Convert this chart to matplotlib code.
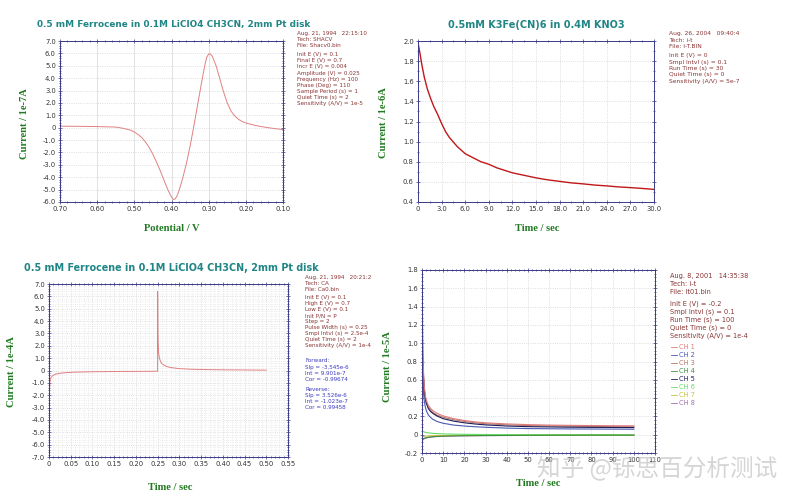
import matplotlib
matplotlib.use('Agg')
import matplotlib.pyplot as plt, numpy as np
from matplotlib.ticker import MultipleLocator, AutoMinorLocator, FuncFormatter

###data read off the four instrument screens
##SHACV (top left)
shacv_E = [0.70, 0.65, 0.60, 0.55, 0.53, 0.51, 0.50, 0.49, 0.48, 0.47, 0.46, 0.45, 0.44, 0.43, 0.42, 0.41,
           0.40, 0.395, 0.39, 0.385, 0.38, 0.37, 0.36, 0.35, 0.34, 0.33, 0.32, 0.315, 0.31, 0.305, 0.30,
           0.295, 0.29, 0.28, 0.27, 0.26, 0.25, 0.24, 0.23, 0.22, 0.21, 0.20, 0.18, 0.16, 0.14, 0.12, 0.10]
shacv_I = [0.12, 0.11, 0.09, 0.05, -0.05, -0.2, -0.35, -0.55, -0.8, -1.15, -1.6, -2.15, -2.8, -3.5, -4.25, -5.0,
           -5.6, -5.8, -5.75, -5.5, -5.1, -4.1, -2.9, -1.5, 0.1, 1.8, 3.5, 4.3, 5.1, 5.7, 5.95,
           5.95, 5.75, 5.0, 3.95, 2.9, 2.0, 1.35, 0.95, 0.68, 0.5, 0.38, 0.22, 0.1, 0.0, -0.08, -0.15]

##i-t K3Fe(CN)6 (top right)
it_t = [0, 0.2, 0.5, 0.8, 1.2, 1.6, 2.0, 2.5, 3.0, 3.5, 4.0, 5.0, 6.0, 7.0, 8.0, 9.0, 10.0, 11.0, 12.0,
        13.5, 15.0, 16.5, 18.0, 19.5, 21.0, 22.5, 24.0, 25.5, 27.0, 28.5, 30.0]
it_I = [1.98, 1.90, 1.76, 1.64, 1.52, 1.43, 1.35, 1.27, 1.18, 1.10, 1.04, 0.95, 0.88, 0.84, 0.80, 0.775, 0.74,
        0.715, 0.69, 0.665, 0.64, 0.62, 0.605, 0.59, 0.58, 0.568, 0.56, 0.55, 0.543, 0.535, 0.525]

##CA double step (bottom left)
ca_t = [0.0, 0.001, 0.002, 0.004, 0.008, 0.015, 0.025, 0.04, 0.06, 0.1, 0.15, 0.2, 0.2499, 0.25, 0.2505,
        0.251, 0.252, 0.254, 0.257, 0.26, 0.265, 0.27, 0.28, 0.3, 0.33, 0.37, 0.42, 0.46, 0.5]
ca_I = [-6.9, -2.0, -0.9, -0.6, -0.42, -0.3, -0.22, -0.17, -0.13, -0.1, -0.08, -0.07, -0.06, 6.4, 3.5,
        2.3, 1.5, 1.0, 0.7, 0.55, 0.42, 0.33, 0.24, 0.15, 0.1, 0.07, 0.05, 0.04, 0.03]

##8 channel i-t (bottom right)
mc_t = [0.1, 0.3, 0.6, 1, 1.5, 2, 3, 4, 5, 7, 10, 15, 20, 25, 30, 40, 50, 60, 70, 80, 90, 100]
ch1 = [1.75, 1.1, 0.75, 0.55, 0.44, 0.38, 0.32, 0.29, 0.265, 0.235, 0.205, 0.175, 0.155, 0.14, 0.13, 0.118, 0.11, 0.105, 0.102, 0.1, 0.098, 0.097]
ch2 = [0.75, 0.6, 0.48, 0.38, 0.31, 0.265, 0.215, 0.19, 0.17, 0.145, 0.125, 0.105, 0.095, 0.087, 0.081, 0.072, 0.067, 0.065, 0.063, 0.062, 0.061, 0.06]
ch3 = [1.55, 1.0, 0.7, 0.52, 0.42, 0.36, 0.3, 0.27, 0.245, 0.215, 0.19, 0.163, 0.145, 0.13, 0.12, 0.108, 0.1, 0.096, 0.093, 0.09, 0.088, 0.087]
ch4 = [-0.06, -0.05, -0.045, -0.04, -0.036, -0.033, -0.028, -0.025, -0.022, -0.019, -0.016, -0.013, -0.011, -0.01, -0.009, -0.008, -0.007, -0.006, -0.006, -0.005, -0.005, -0.005]
ch5 = [0.95, 0.85, 0.68, 0.5, 0.4, 0.345, 0.285, 0.255, 0.235, 0.205, 0.175, 0.148, 0.13, 0.117, 0.107, 0.095, 0.088, 0.085, 0.082, 0.08, 0.079, 0.078]
ch6 = [0.05, 0.04, 0.035, 0.03, 0.027, 0.024, 0.02, 0.017, 0.015, 0.012, 0.009, 0.006, 0.004, 0.003, 0.002, 0.001, 0.0, 0.0, -0.001, -0.001, -0.002, -0.002]
ch7 = [-0.03, -0.025, -0.02, -0.018, -0.016, -0.015, -0.013, -0.012, -0.011, -0.01, -0.009, -0.008, -0.007, -0.007, -0.006, -0.006, -0.005, -0.005, -0.005, -0.005, -0.005, -0.005]
ch8 = [-0.08, -0.06, -0.05, -0.045, -0.04, -0.036, -0.03, -0.027, -0.024, -0.02, -0.017, -0.014, -0.012, -0.011, -0.01, -0.009, -0.008, -0.007, -0.007, -0.006, -0.006, -0.006]
ch_names = ['CH 1', 'CH 2', 'CH 3', 'CH 4', 'CH 5', 'CH 6', 'CH 7', 'CH 8']
ch_colors = ['#e07a7a', '#4a5ab0', '#b47a68', '#3f8f3f', '#1c1c5a', '#66dd66', '#c8c040', '#a070b0']

##instrument parameter text ('' = small gap)
info1 = ['Aug. 21, 1994   22:15:10', 'Tech: SHACV', 'File: Shacv0.bin', '',
         'Init E (V) = 0.1', 'Final E (V) = 0.7', 'Incr E (V) = 0.004', 'Amplitude (V) = 0.025',
         'Frequency (Hz) = 100', 'Phase (Deg) = 110', 'Sample Period (s) = 1', 'Quiet Time (s) = 2',
         'Sensitivity (A/V) = 1e-5']
info2 = ['Aug. 26, 2004   09:40:4', 'Tech: i-t', 'File: I-T.BIN', '',
         'Init E (V) = 0', 'Smpl Intvl (s) = 0.1', 'Run Time (s) = 30', 'Quiet Time (s) = 0',
         'Sensitivity (A/V) = 5e-7']
info3 = ['Aug. 21, 1994   20:21:2', 'Tech: CA', 'File: Ca0.bin', '',
         'Init E (V) = 0.1', 'High E (V) = 0.7', 'Low E (V) = 0.1', 'Init P/N = P', 'Step = 2',
         'Pulse Width (s) = 0.25', 'Smpl Intvl (s) = 2.5e-4', 'Quiet Time (s) = 2', 'Sensitivity (A/V) = 1e-4']
info3b = ['Forward:', 'Slp = -3.545e-6', 'Int = 9.901e-7', 'Cor = -0.99674', '',
          'Reverse:', 'Slp = 3.526e-6', 'Int = -1.023e-7', 'Cor = 0.99458']
info4 = ['Aug. 8, 2001   14:35:38', 'Tech: i-t', 'File: It01.bin', '',
         'Init E (V) = -0.2', 'Smpl Intvl (s) = 0.1', 'Run Time (s) = 100', 'Quiet Time (s) = 0',
         'Sensitivity (A/V) = 1e-4']

W, H = 796, 503
TEAL = '#1f8585'
GREEN = '#217a21'
NAVY = '#3a3a88'
RED_TXT = '#8a3434'
BLUE_TXT = '#3a3ac0'

fig = plt.figure(figsize=(W/100, H/100), dpi=100)
fig.patch.set_facecolor('white')

def px(x, y):
    return x/W, 1-y/H

def box(l, t, r, b):
    return [l/W, 1-b/H, (r-l)/W, (b-t)/H]

def fmt(decimals):
    def f(v, pos):
        if abs(v) < 1e-9:
            return '0'
        return ('%.' + str(decimals) + 'f') % v
    return FuncFormatter(f)

def style(ax, xmaj, ymaj, xdec, ydec, xminor=5, yminor=5, minor_grid=False):
    ax.xaxis.set_major_locator(MultipleLocator(xmaj))
    ax.yaxis.set_major_locator(MultipleLocator(ymaj))
    ax.xaxis.set_minor_locator(AutoMinorLocator(xminor))
    ax.yaxis.set_minor_locator(AutoMinorLocator(yminor))
    ax.xaxis.set_major_formatter(fmt(xdec))
    ax.yaxis.set_major_formatter(fmt(ydec))
    for s in ax.spines.values():
        s.set_color(NAVY)
        s.set_linewidth(0.7)
    ax.tick_params(which='both', direction='inout', top=True, right=True, color=NAVY, width=0.5)
    ax.tick_params(which='major', length=3, labelsize=4.9, labelcolor='#333333', pad=1.5)
    ax.tick_params(which='minor', length=1.6)
    ax.grid(True, which='major', color='#d4d4d4', linestyle=':', linewidth=0.6)
    if minor_grid:
        ax.grid(True, which='minor', color='#e2e2e2', linestyle=':', linewidth=0.5)
    ax.set_axisbelow(True)

def title(x, y, s, ha='left', size=6.4):
    fig.text(*px(x, y), s, color=TEAL, fontsize=size, fontweight='bold', ha=ha, va='center',
             family='DejaVu Sans')

def label(x, y, s, rot=0):
    fig.text(*px(x, y), s, color=GREEN, fontsize=7.6, fontweight='bold', ha='center', va='center',
             rotation=rot, family='Liberation Serif')

def block(x, y, lines, step, color, size=4.1):
    ## '' lines only add a small gap
    for s in lines:
        if s:
            fig.text(*px(x, y), s, color=color, fontsize=size, ha='left', va='center')
            y += step
        else:
            y += 0.45*step

##panel 1: SHACV
ax1 = fig.add_axes(box(60, 41, 283, 202))
ax1.plot(shacv_E, shacv_I, color='#e08080', lw=0.7)
ax1.set_xlim(0.70, 0.10)
ax1.set_ylim(-6.0, 7.0)
style(ax1, 0.1, 1.0, 2, 1)
ax1.grid(True, which='major', axis='x', color='#dddddd', linestyle='-', linewidth=0.6)
title(37, 25, '0.5 mM Ferrocene in 0.1M LiClO4 CH3CN, 2mm Pt disk')
label(25, 124, 'Current / 1e-7A', 90)
label(172, 229, 'Potential / V')
block(297, 33.7, info1, 6.1, RED_TXT)

##panel 2: i-t decay
ax2 = fig.add_axes(box(418, 41, 654, 202))
ax2.plot(it_t, it_I, color='#c01818', lw=1.0)
ax2.set_xlim(0, 30)
ax2.set_ylim(0.4, 2.0)
style(ax2, 3.0, 0.2, 1, 1, xminor=2, yminor=2)
title(536, 25, '0.5mM K3Fe(CN)6 in 0.4M KNO3', ha='center', size=7.0)
label(383, 123, 'Current / 1e-6A', 90)
label(537, 229, 'Time / sec')
block(669, 33.7, info2, 6.4, RED_TXT, size=4.3)

##panel 3: CA double step
ax3 = fig.add_axes(box(49, 284, 288, 457))
ax3.plot(ca_t, ca_I, color='#e08080', lw=0.7)
ax3.set_xlim(0, 0.55)
ax3.set_ylim(-7.0, 7.0)
style(ax3, 0.05, 1.0, 2, 1, minor_grid=True)
title(24, 268, '0.5 mM Ferrocene in 0.1M LiClO4 CH3CN, 2mm Pt disk', size=6.9)
label(12, 372, 'Current / 1e-4A', 90)
label(170, 487, 'Time / sec')
block(305, 277.3, info3, 6.0, RED_TXT)
block(305, 361, info3b, 6.3, BLUE_TXT)

##panel 4: 8 channels
ax4 = fig.add_axes(box(422, 270, 655, 453))
chans = [ch1, ch2, ch3, ch4, ch5, ch6, ch7, ch8]
order = [7, 6, 5, 3, 1, 2, 4, 0]
for k in order:
    ax4.plot(mc_t, chans[k], color=ch_colors[k], lw=0.8)
ax4.set_xlim(0, 110)
ax4.set_ylim(-0.2, 1.8)
style(ax4, 10, 0.2, 0, 1)
label(387, 367, 'Current / 1e-5A', 90)
label(538, 484, 'Time / sec')
block(670, 275.7, info4, 8.0, RED_TXT, size=4.8)
for i, (n, c) in enumerate(zip(ch_names, ch_colors)):
    y = 347.3 + i*7.9
    fig.add_artist(plt.Line2D([670.5/W, 677/W], [1-y/H, 1-y/H], color=c, lw=0.6))
    fig.text(*px(679, y), n, color=c, fontsize=4.8, ha='left', va='center')

##watermark
fig.text(*px(657, 468), '知乎 @铄思百分析测试', fontsize=17, color='#c4c4c4', alpha=0.7,
         ha='center', va='center', family=['Noto Sans CJK SC', 'DejaVu Sans'])

fig.savefig('out.png', dpi=100)
